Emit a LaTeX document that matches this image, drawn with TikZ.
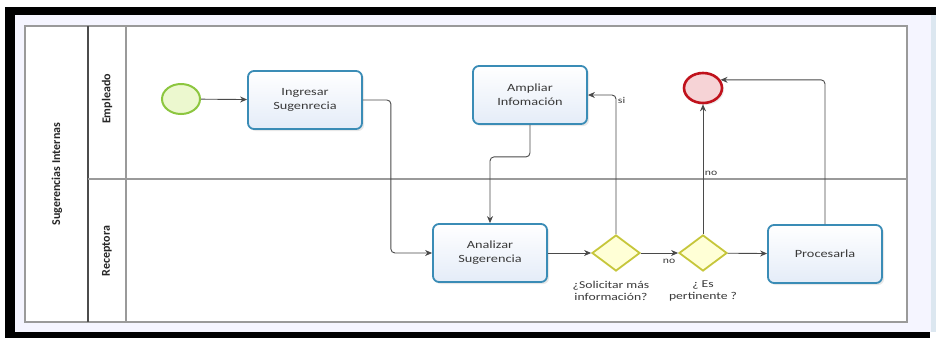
\documentclass[tikz,border=0pt]{standalone}
\usepackage{fontspec}
\setmainfont{Carlito}
\newfontfamily\taskfont{Carlito}[FakeStretch=1.3]
\usetikzlibrary{arrows.meta,shapes.geometric,shadows,calc}

\definecolor{taskblue}{HTML}{3A8CB6}
\definecolor{taskfill}{HTML}{E4ECF8}
\definecolor{txt}{HTML}{3A3A3A}
\definecolor{poolgray}{HTML}{9A9A9A}
\definecolor{flowgray}{HTML}{4A4A4A}
\definecolor{startfill}{HTML}{ECF8CF}
\definecolor{startdraw}{HTML}{8CC63F}
\definecolor{endfill}{HTML}{F6D3D6}
\definecolor{enddraw}{HTML}{C0121C}
\definecolor{gwfill}{HTML}{FFFFD6}
\definecolor{gwdraw}{HTML}{C6C63A}
\definecolor{stripblue}{HTML}{DCE7F0}

\begin{document}
\begin{tikzpicture}[x=1pt,y=-1pt,
  task/.style={draw=taskblue, line width=1.8pt, rounded corners=6pt,
    top color=white, bottom color=taskfill,
    minimum width=114pt, minimum height=58pt, align=center,
    font=\taskfont\fontsize{11}{14}\selectfont, text=txt,
    drop shadow={shadow xshift=2pt, shadow yshift=-2pt, opacity=0.18}},
  gateway/.style={diamond, draw=gwdraw, fill=gwfill, line width=1.8pt,
    minimum width=48pt, minimum height=36pt, inner sep=0pt},
  startev/.style={ellipse, draw=startdraw, fill=startfill, line width=2pt,
    minimum width=38pt, minimum height=30pt, inner sep=0pt},
  endev/.style={ellipse, draw=enddraw, fill=endfill, line width=2.6pt,
    minimum width=38pt, minimum height=30pt, inner sep=0pt,
    drop shadow={shadow xshift=2pt, shadow yshift=-2pt, opacity=0.15}},
  flow/.style={draw=flowgray, line width=0.9pt, rounded corners=4pt,
    -{Stealth[length=7pt,width=6pt]}},
  gwlabel/.style={align=center, text=txt,
    font=\taskfont\fontsize{10.5}{11.5}\selectfont},
  edgelabel/.style={text=txt, inner sep=1.5pt,
    font=\taskfont\fontsize{9}{10}\selectfont},
  lanelabel/.style={rotate=90, text=black!85,
    font=\bfseries\fontsize{12}{14}\selectfont}
]
\useasboundingbox (0,0) rectangle (936,338);
\fill[white] (0,0) rectangle (936,338);

% outer black frame and screen strip
\fill[black] (5,7) rectangle (936,15);
\fill[black] (5,7) rectangle (15,338);
\fill[black] (5,332) rectangle (930,338);
\fill[stripblue] (931,15) rectangle (936,332);
\fill[white!96!blue] (15,15) rectangle (931,332);
\fill[white] (25,26) rectangle (907,322);

% pool and lanes
\draw[poolgray, line width=1.2pt] (25,26) rectangle (907,322);
\draw[black!70, line width=1.3pt] (88,26) -- (88,322);
\draw[poolgray, line width=1.1pt] (126,26) -- (126,322);
\draw[poolgray, line width=1.1pt] (88,179) -- (907,179);

\node[lanelabel] (pool) at (57,174) {Sugerencias Internas};
\node[lanelabel] (lane1) at (107,99) {Empleado};
\node[lanelabel] (lane2) at (107,251) {Receptora};

% flow objects
\node[startev] (start) at (181,99) {};
\node[task] (ingresar) at (305,100) {Ingresar\\Sugenrecia};
\node[task] (ampliar) at (530,95) {Ampliar\\Infomación};
\node[task] (analizar) at (490,253) {Analizar\\Sugerencia};
\node[gateway] (g1) at (616,253) {};
\node[gateway] (g2) at (703,253) {};
\node[task] (procesar) at (825,254) {Procesarla};
\node[endev] (end) at (703,88) {};

\node[gwlabel] (g1lbl) at (611,291) {¿Solicitar más\\información?};
\node[gwlabel] (g2lbl) at (703,291) {¿ Es\\pertinente ?};

% sequence flows
\draw[flow] (start) -- (ingresar);
\draw[flow] (ingresar.east) -- ++(28,0) |- (analizar.west);
\draw[flow] (ampliar.south) -- ++(0,32) -| (analizar.north);
\draw[flow] (analizar) -- (g1);
\draw[flow] (g1.north) |- node[pos=0.48, right, edgelabel] {si} (ampliar.east);
\draw[flow] (g1) -- (g2);
\node[edgelabel] (nolbl1) at ($(g2.west)+(-9,8)$) {no};
\draw[flow] (g2.north) -- node[pos=0.47, right, edgelabel] {no} (end.south);
\draw[flow] (g2) -- (procesar);
\draw[flow] (procesar.north) |- (end.25);
\end{tikzpicture}
\end{document}
